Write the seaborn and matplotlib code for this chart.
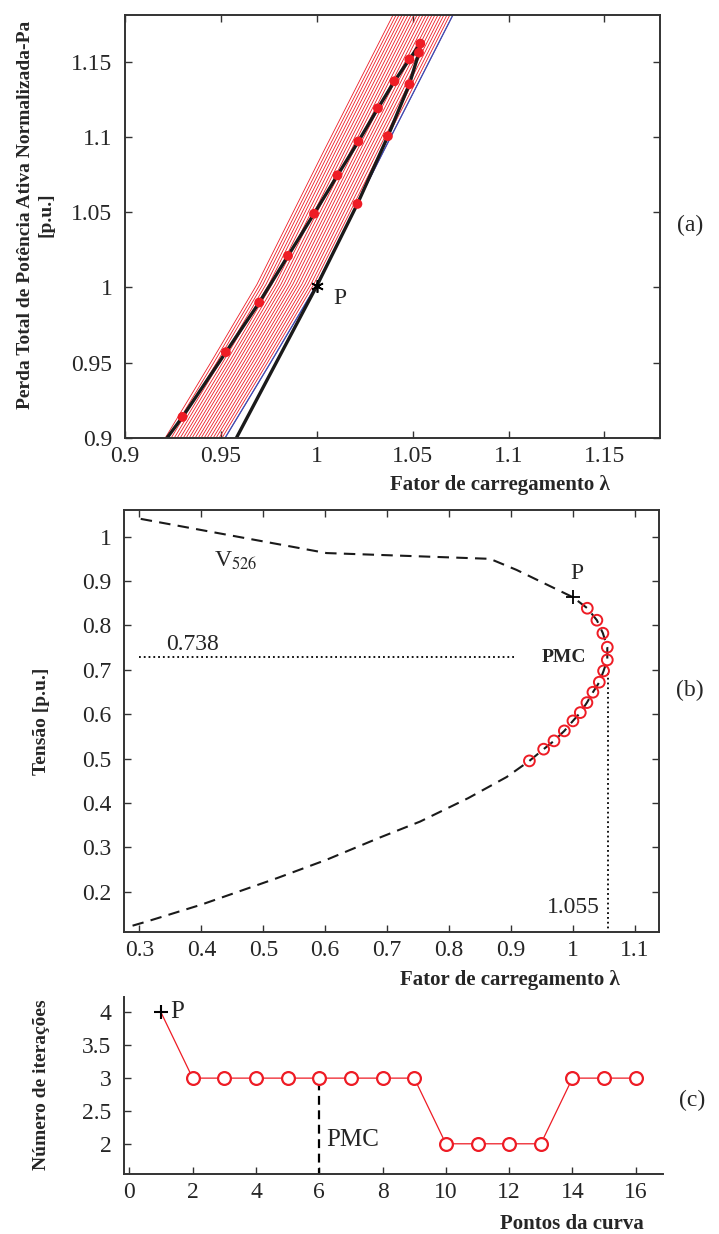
import numpy as np
import pandas as pd
import matplotlib
matplotlib.use("Agg")
from matplotlib import pyplot as plt
from matplotlib.ticker import FuncFormatter
import seaborn as sns

# (a) perda total normalizada x fator de carregamento (pontos da curva)
lam_a = [1.0212, 1.0371, 1.0483, 1.0533, 1.0540, 1.0483, 1.0405, 1.0319,
         1.0217, 1.0108, 0.9986, 0.9850, 0.9700, 0.9526, 0.9300]
pa_a = [1.0555, 1.1005, 1.1350, 1.1560, 1.1620, 1.1515, 1.1370, 1.1190,
        1.0970, 1.0745, 1.0490, 1.0210, 0.9900, 0.9570, 0.9140]
p_a = (1.000, 1.001)
lower_start = (0.9560, 0.895)
upper_end = (0.9190, 0.895)
# blue boundary curve and the family of red curves shifted from it
blue_x = [0.9498, 0.9762, 1.0000, 1.0349, 1.0730]
blue_y = [0.8950, 0.9507, 1.0020, 1.0907, 1.1860]
shifts = [0.0, -0.0016, -0.0031, -0.0047, -0.0062, -0.0078, -0.0094, -0.0109,
          -0.0125, -0.0140, -0.0156, -0.0172, -0.0187, -0.0203, -0.0218,
          -0.0234, -0.0250, -0.0265, -0.0281, -0.0296, -0.0312]

# (b) tensao da barra 526 x fator de carregamento
lam_b = [1.0232, 1.0387, 1.0484, 1.0555, 1.0555, 1.0495, 1.0426, 1.0323,
         1.0226, 1.0119, 1.0000, 0.9861, 0.9694, 0.9527, 0.9297]
v_b = [0.8387, 0.8117, 0.7824, 0.7509, 0.7223, 0.6975, 0.6721, 0.6495,
       0.6261, 0.6036, 0.5849, 0.5624, 0.5399, 0.5212, 0.4948]
p_b = (1.000, 0.8635)
top_x = [0.302, 0.602, 0.866, 0.909]
top_v = [1.040, 0.963, 0.950, 0.925]
bot_x = [0.893, 0.831, 0.753, 0.688, 0.602, 0.522, 0.400, 0.312, 0.285]
bot_v = [0.4585, 0.411, 0.358, 0.322, 0.272, 0.2306, 0.171, 0.133, 0.122]
v_pmc = 0.728
lam_pmc = 1.057

# (c) numero de iteracoes por ponto
pontos = list(range(1, 17))
iters = [4, 3, 3, 3, 3, 3, 3, 3, 3, 2, 2, 2, 2, 3, 3, 3]

sns.set_style("ticks")
plt.rcParams['font.family'] = ['Liberation Serif', 'DejaVu Serif']
plt.rcParams['mathtext.fontset'] = 'stix'

W, H = 719, 1234
fig = plt.figure(figsize=(W / 100, H / 100), dpi=100)


def box(l, t, r, b):
    return [l / W, 1 - b / H, (r - l) / W, (b - t) / H]


def px(x, y):
    return x / W, 1 - y / H


fmt = FuncFormatter(lambda v, p: "%g" % round(v, 3))
RED = "#ee1c25"

# ---------------- (a)
ax1 = fig.add_axes(box(125, 15, 660, 438))
rows = []
for k, s in enumerate(shifts):
    for x, y in zip(blue_x, blue_y):
        rows.append((k, x + s, y))
fam = pd.DataFrame(rows, columns=["curva", "lam", "pa"])
sns.lineplot(data=fam, x="lam", y="pa", units="curva", estimator=None, sort=False,
             color=RED, lw=0.6, ax=ax1)
sns.lineplot(x=blue_x, y=blue_y, estimator=None, sort=False, color="#3050c0", lw=0.9, ax=ax1)
cx = [lower_start[0], p_a[0]] + lam_a + [upper_end[0]]
cy = [lower_start[1], p_a[1]] + pa_a + [upper_end[1]]
sns.lineplot(x=cx, y=cy, estimator=None, sort=False, color="#1a1a1a", lw=2.4, ax=ax1)
sns.scatterplot(x=lam_a, y=pa_a, color=RED, s=50, edgecolor="none", zorder=5, ax=ax1)
ax1.plot(*p_a, marker=(6, 2, 0), color="k", ms=9, mew=1.2, zorder=6)
ax1.text(1.0085, 0.993, "P", fontsize=17, va="center")
ax1.set_xlim(0.9, 1.179)
ax1.set_ylim(0.9, 1.181)
ax1.set_xticks([0.9, 0.95, 1.0, 1.05, 1.1, 1.15])
ax1.set_yticks([0.9, 0.95, 1.0, 1.05, 1.1, 1.15])

# ---------------- (b)
ax2 = fig.add_axes(box(124, 510, 659, 931.7))
dx = top_x + [p_b[0]] + lam_b + bot_x
dv = top_v + [p_b[1]] + v_b + bot_v
sns.lineplot(x=dx, y=dv, estimator=None, sort=False, color="#1a1a1a", lw=1.5,
             linestyle=(0, (5.5, 3.5)), ax=ax2)
sns.scatterplot(x=lam_b, y=v_b, marker="o", s=60, facecolor="none",
                edgecolor=RED, linewidth=1.4, zorder=5, ax=ax2)
ax2.plot(*p_b, marker="+", color="k", ms=10, mew=1.3, zorder=6)
ax2.text(1.007, 0.918, "P", fontsize=17, ha="center", va="center")
ax2.plot([0.30, 0.909], [v_pmc, v_pmc], color="k", ls=":", lw=1.3)
ax2.plot([lam_pmc, lam_pmc], [0.0, 0.698], color="k", ls=":", lw=1.3)
ax2.text(0.343, 0.7575, "0.738", fontsize=17, ha="left", va="center")
ax2.text(0.985, v_pmc, "PMC", fontsize=14, fontweight="bold", ha="center", va="center")
ax2.text(1.043, 0.165, "1.055", fontsize=17, ha="right", va="center")
ax2.text(0.455, 0.945, r"V$_{526}$", fontsize=17, ha="center", va="center")
ax2.set_xlim(0.275, 1.139)
ax2.set_ylim(0.11, 1.06)
ax2.set_xticks(np.arange(3, 12) / 10)
ax2.set_yticks(np.arange(2, 11) / 10)

# ---------------- (c)
ax3 = fig.add_axes(box(124, 996.7, 662.7, 1174))
sns.lineplot(x=pontos, y=iters, estimator=None, color=RED, lw=0.9, ax=ax3)
sns.scatterplot(x=pontos[1:], y=iters[1:], marker="o", s=85, facecolor="white",
                edgecolor=RED, linewidth=1.6, zorder=5, ax=ax3)
ax3.plot(pontos[0], iters[0], marker="+", color="k", ms=10, mew=1.5, zorder=6)
ax3.text(1.3, 4.0, "P", fontsize=18, va="center")
ax3.plot([6, 6], [1.5, 3.0], color="k", ls=(0, (4, 2.5)), lw=1.6)
ax3.text(6.22, 2.06, "PMC", fontsize=18, va="center")
ax3.set_xlim(-0.17, 16.85)
ax3.set_ylim(1.54, 4.24)
ax3.set_xticks(range(0, 17, 2))
ax3.set_yticks([2, 2.5, 3, 3.5, 4])
sns.despine(ax=ax3)

for ax in (ax1, ax2, ax3):
    ax.set_xlabel("")
    ax.set_ylabel("")
    ax.xaxis.set_major_formatter(fmt)
    ax.yaxis.set_major_formatter(fmt)
    ax.tick_params(direction="in", length=5, width=1, labelsize=17, color="#333333")
    ax.tick_params(axis="y", pad=9)
    ax.tick_params(axis="x", pad=6)
    for sp in ax.spines.values():
        sp.set_linewidth(1.4)
        sp.set_color("#333333")
    if ax.get_legend():
        ax.get_legend().remove()
for ax in (ax1, ax2):
    ax.tick_params(top=True, right=True)

lab = dict(fontsize=15, fontweight="bold")
ylab = dict(fontsize=14, fontweight="bold", rotation=90, ha="center", va="center")
fig.text(*px(500, 485), "Fator de carregamento λ", ha="center", va="center", **lab)
fig.text(*px(510, 980), "Fator de carregamento λ", ha="center", va="center", **lab)
fig.text(*px(572, 1224), "Pontos da curva", ha="center", va="center", **lab)
fig.text(*px(36, 215), "Perda Total de Potência Ativa Normalizada-Pa\n[p.u.]",
         multialignment="center", linespacing=1.3, **ylab)
fig.text(*px(42, 721), "Tensão [p.u.]", **ylab)
fig.text(*px(42, 1085), "Número de iterações", **ylab)
fig.text(*px(690, 225), "(a)", fontsize=17, ha="center", va="center")
fig.text(*px(690, 690), "(b)", fontsize=17, ha="center", va="center")
fig.text(*px(692, 1100), "(c)", fontsize=17, ha="center", va="center")

fig.savefig("out.png", dpi=100)
